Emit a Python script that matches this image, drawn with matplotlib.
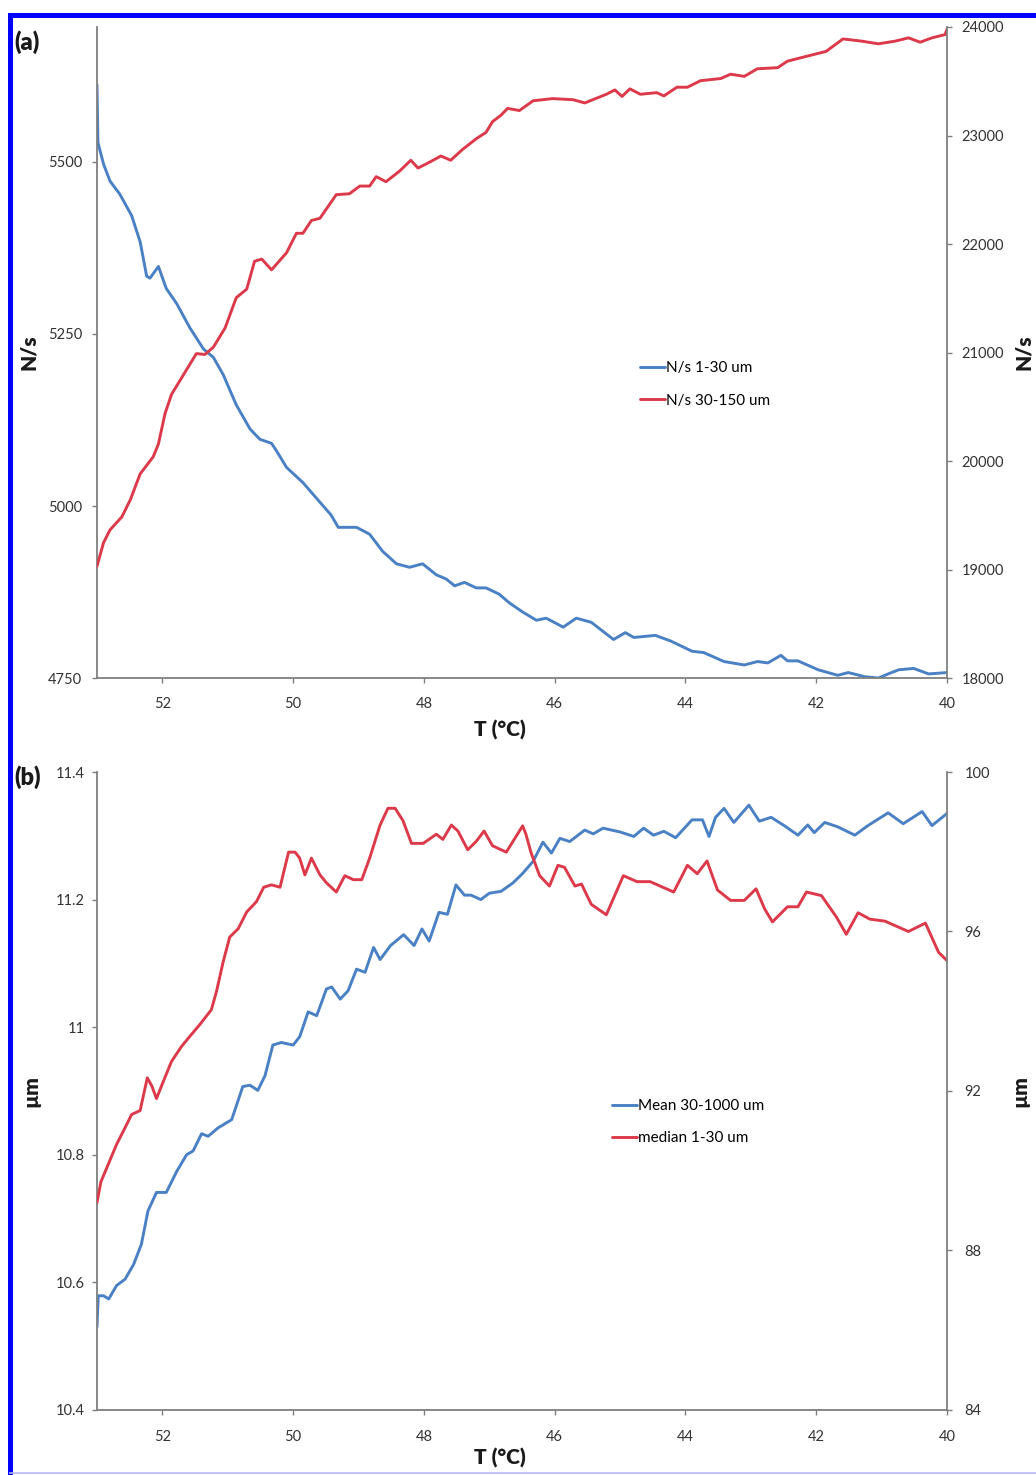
import matplotlib
matplotlib.use("Agg")
import matplotlib.pyplot as plt
from matplotlib.lines import Line2D
import numpy as np

plt.rcParams['font.family'] = ['Lato', 'DejaVu Sans']

# (a) particle counts, N/s
t_small = np.array([53.0, 52.985, 52.90, 52.80, 52.65, 52.47, 52.34, 52.24, 52.19, 52.06,
                    51.94, 51.78, 51.58, 51.37, 51.22, 51.07, 50.87, 50.66, 50.51, 50.33,
                    50.26, 50.10, 49.85, 49.54, 49.42, 49.31, 49.03, 48.83, 48.63, 48.42,
                    48.22, 48.02, 47.81, 47.66, 47.53, 47.38, 47.20, 47.05, 46.85, 46.69,
                    46.49, 46.28, 46.13, 45.87, 45.67, 45.44, 45.10, 44.92, 44.79, 44.46,
                    44.23, 43.90, 43.72, 43.41, 43.10, 42.90, 42.74, 42.54, 42.44, 42.28,
                    41.97, 41.67, 41.51, 41.26, 41.05, 40.90, 40.74, 40.51, 40.28, 40.0])
ns_small = np.array([5612, 5528, 5497, 5472, 5453, 5422, 5384, 5334, 5331, 5348,
                     5316, 5294, 5259, 5228, 5216, 5191, 5147, 5112, 5097, 5091,
                     5081, 5056, 5034, 5000, 4987, 4969, 4969, 4959, 4934, 4916,
                     4911, 4916, 4900, 4894, 4884, 4889, 4881, 4881, 4872, 4859,
                     4846, 4834, 4837, 4824, 4837, 4831, 4806, 4816, 4809, 4812,
                     4804, 4789, 4787, 4774, 4769, 4774, 4772, 4783, 4775, 4775,
                     4762, 4754, 4758, 4752, 4750, 4756, 4762, 4764, 4756, 4758])

t_large = np.array([53.0, 52.90, 52.80, 52.62, 52.49, 52.34, 52.14, 52.06, 51.96, 51.86,
                    51.68, 51.48, 51.35, 51.22, 51.04, 50.87, 50.71, 50.59, 50.48, 50.33,
                    50.10, 49.95, 49.85, 49.72, 49.59, 49.34, 49.14, 48.98, 48.83, 48.73,
                    48.58, 48.37, 48.20, 48.09, 47.92, 47.74, 47.59, 47.41, 47.20, 47.05,
                    46.95, 46.82, 46.72, 46.54, 46.33, 46.03, 45.72, 45.54, 45.21, 45.08,
                    44.97, 44.85, 44.69, 44.44, 44.33, 44.13, 43.97, 43.77, 43.46, 43.31,
                    43.10, 42.90, 42.59, 42.44, 42.18, 41.85, 41.59, 41.31, 41.05, 40.79,
                    40.59, 40.41, 40.23, 40.03, 40.0])
ns_large = np.array([19030, 19247, 19366, 19485, 19643, 19881, 20039, 20158, 20435, 20614,
                     20792, 20990, 20982, 21049, 21227, 21505, 21584, 21841, 21861, 21762,
                     21920, 22099, 22099, 22217, 22237, 22455, 22463, 22534, 22534, 22621,
                     22574, 22673, 22772, 22700, 22752, 22811, 22772, 22871, 22970, 23029,
                     23128, 23188, 23250, 23230, 23320, 23340, 23330, 23300, 23380, 23420,
                     23360, 23430, 23380, 23395, 23365, 23445, 23445, 23505, 23525, 23565,
                     23545, 23615, 23625, 23685, 23725, 23775, 23890, 23870, 23845, 23870,
                     23900, 23860, 23900, 23930, 23980])

# (b) particle sizes, um
t_mean = np.array([53.0, 52.98, 52.90, 52.82, 52.70, 52.57, 52.44, 52.32, 52.22, 52.09,
                   51.94, 51.78, 51.63, 51.53, 51.40, 51.30, 51.15, 50.94, 50.77, 50.66,
                   50.54, 50.43, 50.31, 50.18, 50.00, 49.90, 49.77, 49.64, 49.49, 49.41,
                   49.28, 49.16, 49.03, 48.90, 48.77, 48.67, 48.51, 48.31, 48.15, 48.03,
                   47.92, 47.77, 47.64, 47.51, 47.38, 47.28, 47.13, 47.00, 46.82, 46.64,
                   46.49, 46.33, 46.18, 46.05, 45.92, 45.77, 45.54, 45.41, 45.26, 45.00,
                   44.79, 44.64, 44.49, 44.33, 44.15, 43.90, 43.74, 43.64, 43.54, 43.41,
                   43.26, 43.03, 42.87, 42.69, 42.49, 42.28, 42.13, 42.03, 41.87, 41.67,
                   41.41, 41.21, 40.90, 40.67, 40.38, 40.23, 40.0])
mean_size = np.array([10.530, 10.579, 10.579, 10.574, 10.595, 10.605, 10.628, 10.660, 10.712, 10.741,
                      10.741, 10.774, 10.800, 10.806, 10.833, 10.829, 10.842, 10.855, 10.907, 10.909,
                      10.901, 10.924, 10.972, 10.976, 10.972, 10.985, 11.024, 11.018, 11.060, 11.063,
                      11.044, 11.057, 11.091, 11.086, 11.125, 11.106, 11.128, 11.145, 11.128, 11.154,
                      11.135, 11.180, 11.177, 11.223, 11.207, 11.207, 11.200, 11.210, 11.213, 11.226,
                      11.241, 11.260, 11.290, 11.273, 11.296, 11.291, 11.309, 11.303, 11.312, 11.306,
                      11.299, 11.312, 11.301, 11.307, 11.297, 11.325, 11.325, 11.299, 11.329, 11.343,
                      11.321, 11.348, 11.323, 11.329, 11.316, 11.301, 11.317, 11.305, 11.321, 11.314,
                      11.301, 11.316, 11.336, 11.319, 11.338, 11.316, 11.335])

t_median = np.array([53.0, 52.94, 52.82, 52.70, 52.57, 52.47, 52.34, 52.23, 52.16, 52.09,
                     51.99, 51.86, 51.71, 51.58, 51.43, 51.25, 51.17, 51.07, 50.97, 50.84,
                     50.71, 50.56, 50.45, 50.33, 50.20, 50.07, 49.97, 49.90, 49.82, 49.72,
                     49.59, 49.49, 49.34, 49.21, 49.08, 48.95, 48.83, 48.67, 48.55, 48.44,
                     48.32, 48.19, 48.01, 47.81, 47.71, 47.58, 47.48, 47.33, 47.20, 47.08,
                     46.95, 46.74, 46.49, 46.44, 46.36, 46.23, 46.08, 45.95, 45.85, 45.69,
                     45.59, 45.44, 45.21, 44.95, 44.74, 44.54, 44.18, 43.97, 43.82, 43.67,
                     43.51, 43.31, 43.10, 42.92, 42.79, 42.67, 42.44, 42.28, 42.15, 41.92,
                     41.69, 41.54, 41.36, 41.18, 40.95, 40.59, 40.33, 40.13, 40.0])
median_size = np.array([89.20, 89.72, 90.19, 90.66, 91.08, 91.41, 91.51, 92.33, 92.12, 91.81,
                        92.22, 92.74, 93.11, 93.37, 93.66, 94.04, 94.51, 95.24, 95.86, 96.07,
                        96.49, 96.75, 97.11, 97.17, 97.11, 97.99, 97.99, 97.84, 97.42, 97.84,
                        97.42, 97.22, 96.99, 97.40, 97.30, 97.30, 97.84, 98.67, 99.09, 99.09,
                        98.78, 98.21, 98.21, 98.44, 98.31, 98.67, 98.52, 98.05, 98.26, 98.52,
                        98.15, 97.99, 98.65, 98.44, 97.97, 97.40, 97.14, 97.66, 97.61, 97.14,
                        97.19, 96.68, 96.42, 97.40, 97.25, 97.25, 96.99, 97.66, 97.45, 97.77,
                        97.04, 96.78, 96.78, 97.07, 96.57, 96.24, 96.62, 96.62, 96.99, 96.90,
                        96.36, 95.93, 96.47, 96.31, 96.26, 96.00, 96.21, 95.48, 95.27])

temp_ticks = [52, 50, 48, 46, 44, 42, 40]
ns_small_ticks = [4750, 5000, 5250, 5500]
ns_large_ticks = [18000, 19000, 20000, 21000, 22000, 23000, 24000]
mean_ticks = [10.4, 10.6, 10.8, 11.0, 11.2, 11.4]
mean_ticklabels = ['10.4', '10.6', '10.8', '11', '11.2', '11.4']
median_ticks = [84, 88, 92, 96, 100]

blue = '#4a80c4'
red = '#dc3a4a'
axis_grey = '#7f7f7f'

line_style = dict(linewidth=2.1, solid_joinstyle='round', solid_capstyle='round')
tick_style = dict(direction='out', length=3.5, width=1, color=axis_grey,
                  labelsize=10.5, labelcolor='#333333')
label_style = dict(fontsize=15, fontweight='heavy', color='#1a1a1a')
legend_style = dict(frameon=False, fontsize=11, handlelength=1.6, handletextpad=0.1,
                    labelspacing=1.2, borderpad=0, borderaxespad=0, loc='center left')

fig = plt.figure(figsize=(10.36, 14.75), dpi=100)
ax_a = fig.add_axes([0.0936, 0.5403, 0.8205, 0.4414])
ax_a2 = ax_a.twinx()
ax_b = fig.add_axes([0.0936, 0.0441, 0.8205, 0.4325])
ax_b2 = ax_b.twinx()


def style_pair(ax, ax2, xpad, lpad, rpad):
    ax.set_xlim(53, 40)
    ax.set_xticks(temp_ticks)
    for a in (ax, ax2):
        a.spines['top'].set_visible(False)
        for s in a.spines.values():
            s.set_color(axis_grey)
            s.set_linewidth(1.3)
        a.tick_params(**tick_style)
    ax.spines['right'].set_visible(False)
    ax2.spines['left'].set_visible(False)
    ax2.spines['bottom'].set_visible(False)
    ax.tick_params(axis='x', pad=xpad)
    ax.tick_params(axis='y', pad=lpad)
    ax2.tick_params(axis='y', pad=rpad)
    ax.set_xlabel('T (°C)', **label_style)


# panel (a)
l1, = ax_a.plot(t_small, ns_small, color=blue, label='N/s 1-30 um', **line_style)
l2, = ax_a2.plot(t_large, ns_large, color=red, label='N/s 30-150 um', **line_style)
ax_a.set_ylim(4750, 5696)
ax_a.set_yticks(ns_small_ticks)
ax_a2.set_ylim(18000, 24000)
ax_a2.set_yticks(ns_large_ticks)
style_pair(ax_a, ax_a2, 10, 7, 7)
ax_a.set_ylabel('N/s', **label_style)
ax_a2.set_ylabel('N/s', **label_style)
ax_a.xaxis.set_label_coords(0.474, -0.064)
ax_a.yaxis.set_label_coords(-0.069, 0.5)
ax_a2.yaxis.set_label_coords(1.079, 0.5)
ax_a2.legend(handles=[l1, l2], bbox_to_anchor=(0.639, 0.451), **legend_style)

# panel (b)
l3, = ax_b.plot(t_mean, mean_size, color=blue, label='Mean 30-1000 um', **line_style)
l4, = ax_b2.plot(t_median, median_size, color=red, label='median 1-30 um', **line_style)
ax_b.set_ylim(10.4, 11.4)
ax_b.set_yticks(mean_ticks)
ax_b.set_yticklabels(mean_ticklabels)
ax_b2.set_ylim(84, 100)
ax_b2.set_yticks(median_ticks)
style_pair(ax_b, ax_b2, 11, 5, 9)
ax_b.set_ylabel('µm', **label_style)
ax_b2.set_ylabel('µm', **label_style)
ax_b.xaxis.set_label_coords(0.474, -0.060)
ax_b.yaxis.set_label_coords(-0.067, 0.5)
ax_b2.yaxis.set_label_coords(1.075, 0.5)
ax_b2.legend(handles=[l3, l4], bbox_to_anchor=(0.606, 0.451), **legend_style)

fig.text(0.0135, 0.9797, '(a)', fontsize=17, fontweight='heavy', va='top', color='#1a1a1a')
fig.text(0.0135, 0.4810, '(b)', fontsize=17, fontweight='heavy', va='top', color='#1a1a1a')

# blue frame around the figure
fig.add_artist(Line2D([0.0101, 1.0], [0.9895, 0.9895], transform=fig.transFigure,
                      color='#0000ff', linewidth=3.6))
fig.add_artist(Line2D([0.0101, 0.0101], [0.0014, 0.9895], transform=fig.transFigure,
                      color='#0000ff', linewidth=3.6))
fig.add_artist(Line2D([0.0101, 1.0], [0.0014, 0.0014], transform=fig.transFigure,
                      color='#b8b8ff', linewidth=1.2))

fig.savefig('out.png', dpi=100)
